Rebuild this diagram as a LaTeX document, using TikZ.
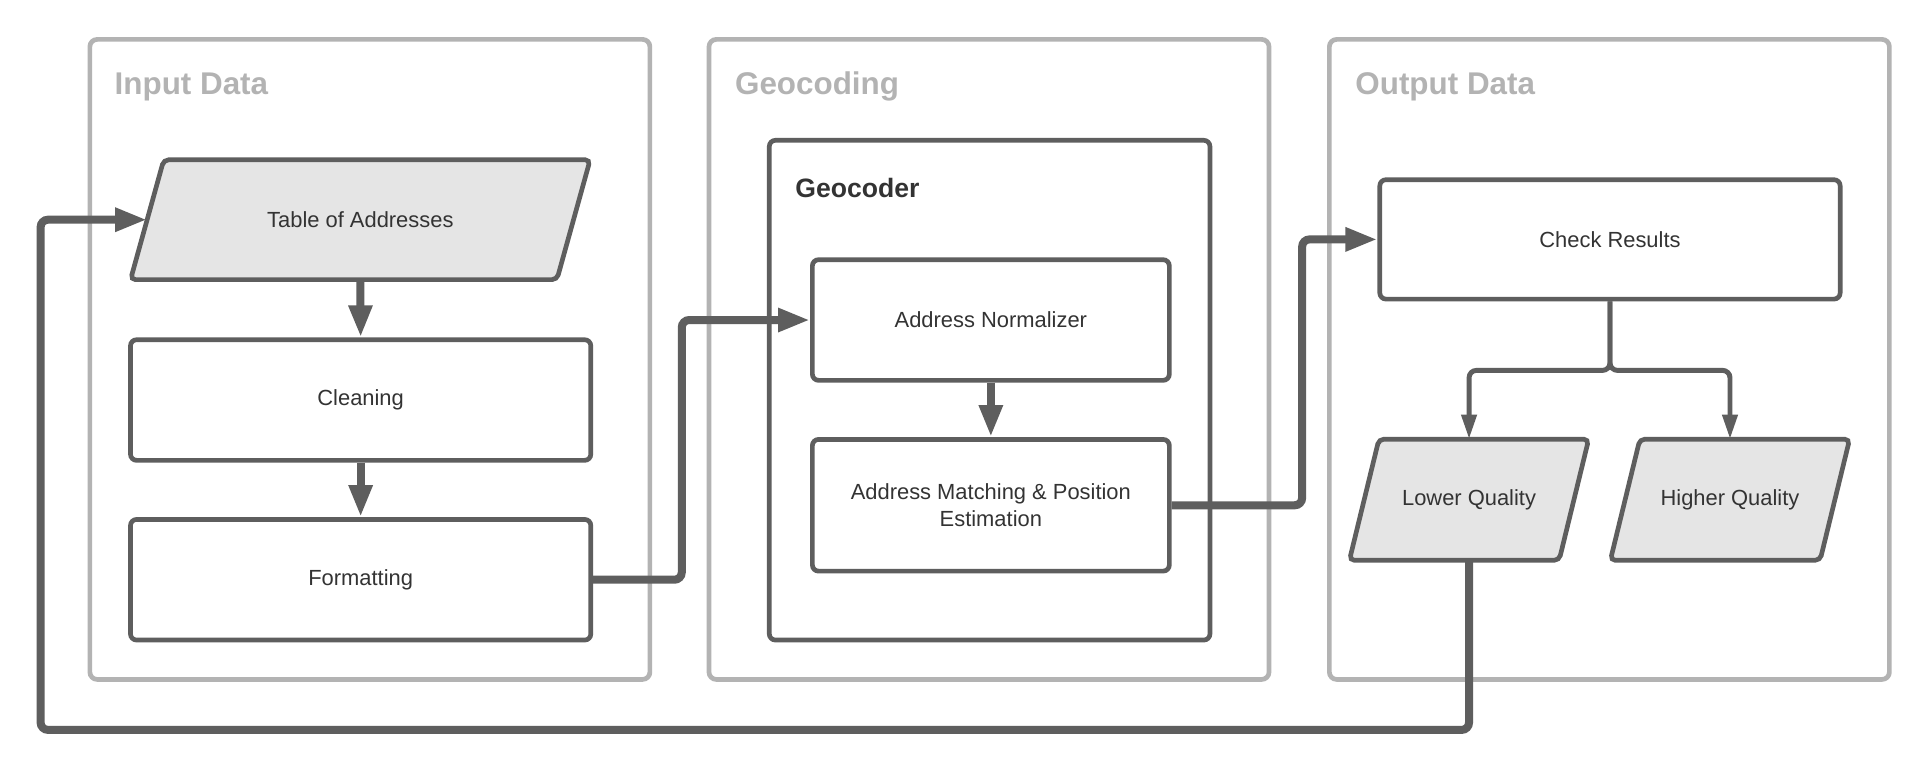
\documentclass[tikz,border=0pt]{standalone}
\usepackage{fontspec}
\setmainfont{Liberation Sans}
\usetikzlibrary{arrows.meta,calc,backgrounds}
\definecolor{cont}{HTML}{B3B3B3}
\definecolor{edgec}{HTML}{5E5E5E}
\definecolor{pfill}{HTML}{E5E5E5}
\definecolor{txt}{HTML}{333333}
\begin{document}
\begin{tikzpicture}[x=1pt,y=-1pt,
  lane/.style={draw=cont, line width=3.8pt, rounded corners=6pt, minimum width=455pt, minimum height=520pt, inner sep=0pt},
  lanetitle/.style={anchor=west, text=cont, font=\fontsize{25.5}{30}\selectfont\bfseries, inner sep=0pt},
  procbox/.style={draw=edgec, line width=3.8pt, rounded corners=5pt, fill=white, text=txt, font=\fontsize{17.8}{22}\selectfont, align=center, inner sep=0pt},
  iobox/.style={text=txt, font=\fontsize{17.8}{22}\selectfont, align=center, inner sep=0pt},
  parashape/.style={draw=edgec, fill=pfill, line width=3.8pt, rounded corners=4pt},
  flowthick/.style={draw=edgec, line width=6.5pt, rounded corners=6pt, -{Triangle[length=26pt,width=18pt]}},
  flowthin/.style={draw=edgec, line width=4pt, rounded corners=6pt, -{Triangle[length=20pt,width=12pt]}},
]
\useasboundingbox (0,0) rectangle (1568,626);

% lanes
\node[lane] (inlane) at (300.5,292) {};
\node[lane] (geolane) at (803.5,292) {};
\node[lane] (outlane) at (1307.5,292) {};
\node[lanetitle] (intitle) at (93,70.5) {Input Data};
\node[lanetitle] (geotitle) at (597,70.5) {Geocoding};
\node[lanetitle] (outtitle) at (1101,70.5) {Output Data};

% input data
\node[iobox, minimum width=346pt, minimum height=97pt] (table) at (292.75,178.5) {Table of Addresses};
\node[procbox, minimum width=374pt, minimum height=98pt] (cleaning) at (293,325) {Cleaning};
\node[procbox, minimum width=374pt, minimum height=98pt] (formatting) at (293,471) {Formatting};

% geocoding
\node[procbox, minimum width=358pt, minimum height=406pt] (geocoder) at (804,317) {};
\node[anchor=west, text=txt, inner sep=0pt, font=\fontsize{21.6}{26}\selectfont\bfseries] (geolabel) at (646,153) {Geocoder};
\node[procbox, minimum width=290pt, minimum height=98pt] (normalizer) at (805,260) {Address Normalizer};
\node[procbox, minimum width=290pt, minimum height=107pt] (matching) at (805,410.5) {Address Matching \& Position\\Estimation};

% output data
\node[procbox, minimum width=374pt, minimum height=97pt] (check) at (1308,194.5) {Check Results};
\node[iobox, minimum width=170pt, minimum height=98pt] (lower) at (1193.5,406) {Lower Quality};
\node[iobox, minimum width=170pt, minimum height=98pt] (higher) at (1405.5,406) {Higher Quality};

\begin{scope}[on background layer]
  \fill[white] (0,0) rectangle (1568,626);
  \foreach \n/\s in {table/13.5, lower/12, higher/12}
    \draw[parashape] ($(\n.north west)+(\s,0)$) -- ($(\n.north east)+(\s,0)$)
      -- ($(\n.south east)-(\s,0)$) -- ($(\n.south west)-(\s,0)$) -- cycle;
\end{scope}

% connectors
\coordinate (loop) at (33,593);
\draw[flowthick] (table.center |- table.south) -- (cleaning.north);
\draw[flowthick] (cleaning.south) -- (formatting.north);
\draw[flowthick] (formatting.east) -- ++(72,0) |- (normalizer.west);
\draw[flowthick] (normalizer.south) -- (matching.north);
\draw[flowthick] (matching.east) -- ++(106,0) |- (check.west);
\draw[flowthin] (check.south) -- ++(0,56) -| (lower.north);
\draw[flowthin] (check.south) -- ++(0,56) -| (higher.north);
\draw[flowthick] (lower.south) |- (loop) |- (table.west);
\end{tikzpicture}
\end{document}
